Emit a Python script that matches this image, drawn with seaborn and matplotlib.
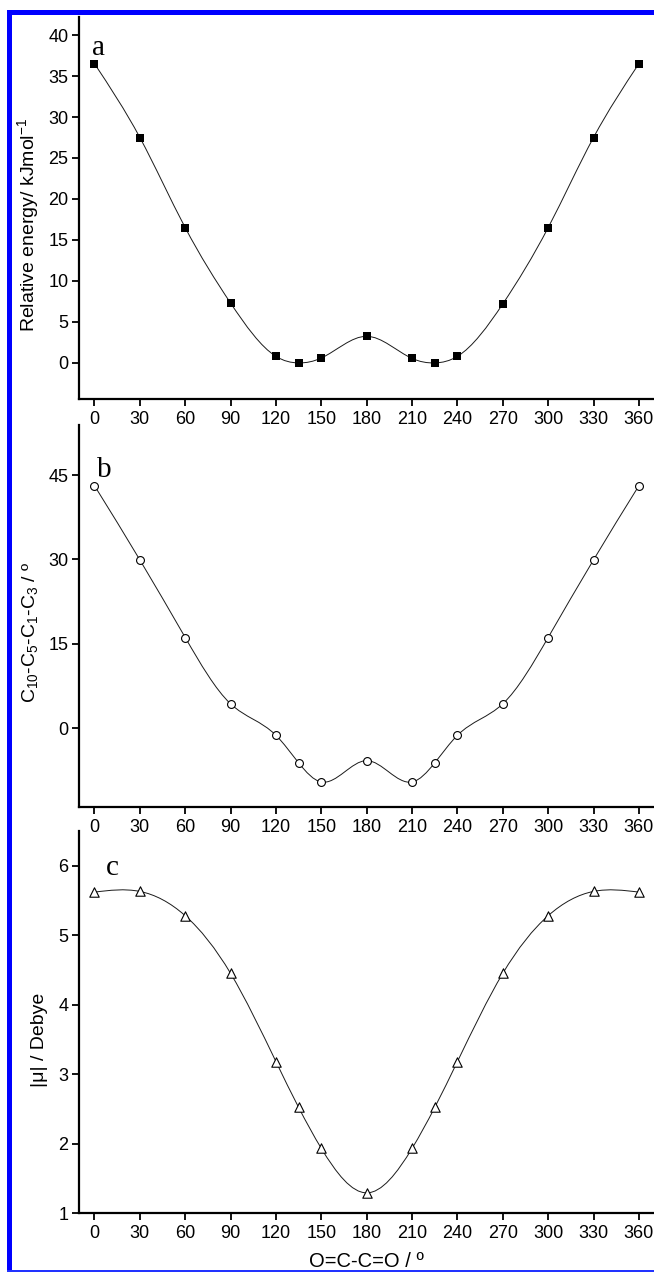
import numpy as np
import pandas as pd
import matplotlib
matplotlib.use("Agg")
import matplotlib.pyplot as plt
from matplotlib.path import Path
from matplotlib.patches import PathPatch, Rectangle
import seaborn as sns

# ---------------- data ----------------
# torsion angle O=C-C=O (deg)
angle = [0, 30, 60, 90, 120, 135, 150, 180, 210, 225, 240, 270, 300, 330, 360]
# (a) relative energy / kJ mol-1
energy = [36.5, 27.5, 16.5, 7.3, 0.8, 0.0, 0.6, 3.25, 0.55, 0.0, 0.8, 7.2, 16.5, 27.5, 36.5]
# (b) C10-C5-C1-C3 dihedral / deg
dihedral = [43.1, 29.9, 16.1, 4.3, -1.3, -6.2, -9.6, -5.8, -9.6, -6.2, -1.3, 4.3, 16.1, 29.9, 43.1]
# (c) dipole moment |mu| / Debye
dipole = [5.62, 5.63, 5.28, 4.45, 3.18, 2.52, 1.93, 1.29, 1.93, 2.52, 3.18, 4.45, 5.28, 5.63, 5.62]

x_ticks = list(range(0, 361, 30))
panel_letters = ["a", "b", "c"]
y_labels = ["Relative energy/ kJmol$^{-1}$",
            "C$_{10}$-C$_{5}$-C$_{1}$-C$_{3}$ / º",
            "|μ| / Debye"]
x_label = "O=C-C=O / º"


def spline_path(x, y):
    # natural cubic spline through the points, drawn as bezier segments
    x = np.asarray(x, float)
    y = np.asarray(y, float)
    n = len(x)
    h = np.diff(x)
    d = np.diff(y) / h
    A = np.zeros((n, n))
    r = np.zeros(n)
    A[0, 0], A[0, 1], r[0] = 2, 1, 3 * d[0]
    A[-1, -2], A[-1, -1], r[-1] = 1, 2, 3 * d[-1]
    for i in range(1, n - 1):
        A[i, i - 1] = h[i]
        A[i, i] = 2 * (h[i - 1] + h[i])
        A[i, i + 1] = h[i - 1]
        r[i] = 3 * (h[i] * d[i - 1] + h[i - 1] * d[i])
    m = np.linalg.solve(A, r)
    verts = [(x[0], y[0])]
    codes = [Path.MOVETO]
    for i in range(n - 1):
        verts += [(x[i] + h[i] / 3, y[i] + m[i] * h[i] / 3),
                  (x[i + 1] - h[i] / 3, y[i + 1] - m[i + 1] * h[i] / 3),
                  (x[i + 1], y[i + 1])]
        codes += [Path.CURVE4] * 3
    return Path(verts, codes)


sns.set_style("ticks")
plt.rcParams['font.family'] = ['Liberation Sans', 'DejaVu Sans']
plt.rcParams['mathtext.fontset'] = 'custom'
plt.rcParams['mathtext.rm'] = 'Liberation Sans'
plt.rcParams['mathtext.it'] = 'Liberation Sans'
for key in ['text.color', 'axes.labelcolor', 'axes.edgecolor', 'xtick.color', 'ytick.color']:
    plt.rcParams[key] = 'black'

W, H = 654, 1272
fig = plt.figure(figsize=(W / 100, H / 100), dpi=100)
fig.patch.set_facecolor("white")

# panel boxes in pixels (top, bottom)
boxes = [(17, 399), (425, 807), (831, 1213)]
ylims = [(-4.4, 42.2), (-14.05, 53.9), (1.0, 6.5)]
yticks = [list(range(0, 41, 5)), [0, 15, 30, 45], [1, 2, 3, 4, 5, 6]]
series = [energy, dihedral, dipole]
markers = [dict(marker="s", s=30, color="black", linewidth=0),
           dict(marker="o", s=32, facecolor="white", edgecolor="black", linewidth=0.8),
           dict(marker="^", s=46, facecolor="white", edgecolor="black", linewidth=0.8)]
letter_pos = [(-1.6, 37.6), (1.6, 44.7), (7.6, 5.86)]
label_coords = [(-0.066, 0.455), (-0.068, 0.458), (-0.054, 0.453)]

for k in range(3):
    top, bottom = boxes[k]
    ax = fig.add_axes([79 / W, 1 - bottom / H, (W - 79) / W, (bottom - top) / H])
    ax.patch.set_alpha(0)
    df = pd.DataFrame({"angle": angle, "value": series[k]})

    ax.add_patch(PathPatch(spline_path(df["angle"], df["value"]), facecolor="none",
                           edgecolor="#1a1a1a", linewidth=0.7, zorder=2))
    sns.scatterplot(data=df, x="angle", y="value", ax=ax, zorder=3, legend=False,
                    **markers[k])

    ax.set_xlim(-10.25, 370)
    ax.set_ylim(*ylims[k])
    ax.set_xticks(x_ticks)
    ax.set_yticks(yticks[k])
    sns.despine(ax=ax)
    for side in ["left", "bottom"]:
        ax.spines[side].set_linewidth(1.6)
    ax.tick_params(axis="both", direction="out", length=5, width=1.3,
                   labelsize=13, color="black", labelcolor="black")
    ax.tick_params(axis="x", pad=4)
    ax.tick_params(axis="y", pad=2.6)

    ax.set_ylabel(y_labels[k], fontsize=14)
    ax.yaxis.set_label_coords(*label_coords[k])
    if k == 2:
        ax.set_xlabel(x_label, fontsize=14.5)
        ax.xaxis.set_label_coords(0.5, -0.102)
    else:
        ax.set_xlabel("")

    ax.text(letter_pos[k][0], letter_pos[k][1], panel_letters[k], ha="left",
            va="baseline", fontsize=21, family="Liberation Serif")

# blue frame around the figure
fig.add_artist(Rectangle((7 / W, 1 - 15 / H), (W - 7) / W, 5 / H,
                         transform=fig.transFigure, color="#0000ff", lw=0, zorder=10))
fig.add_artist(Rectangle((7 / W, 0), 5 / W, 1 - 10 / H,
                         transform=fig.transFigure, color="#0000ff", lw=0, zorder=10))
fig.add_artist(Rectangle((7 / W, 0), (W - 7) / W, 2.5 / H,
                         transform=fig.transFigure, color="#2233ff", lw=0, zorder=10))

fig.savefig("out.png", dpi=100)
